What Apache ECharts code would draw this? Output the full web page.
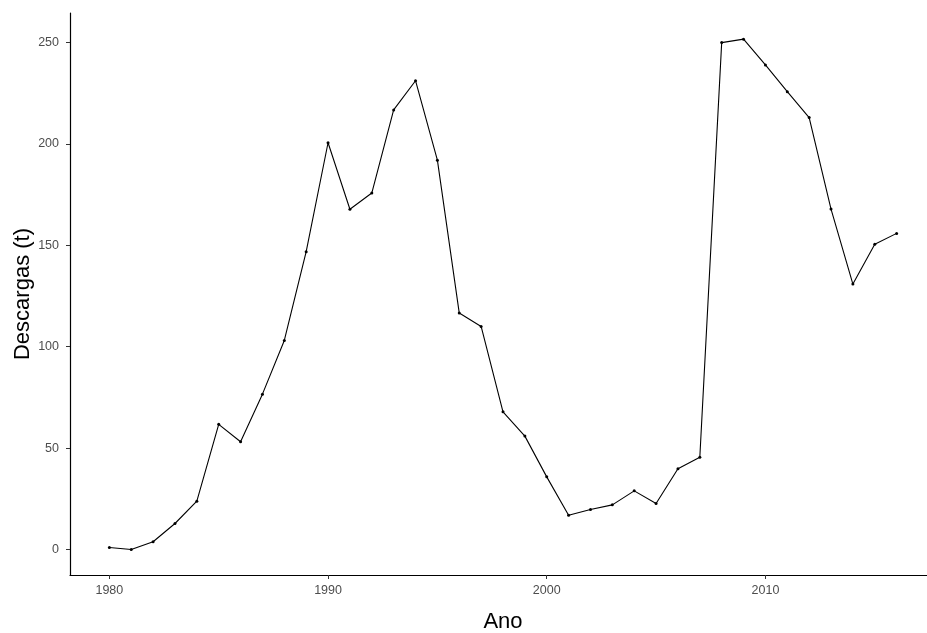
<!DOCTYPE html>
<html>
<head>
<meta charset="utf-8">
<script src="https://cdn.jsdelivr.net/npm/echarts@6/dist/echarts.min.js"></script>
<style>
  html, body { margin: 0; padding: 0; background: #fff; }
  #chart { width: 927px; height: 633px; }
</style>
</head>
<body>
<div id="chart"></div>
<script>
// ---- Data ----
const years = [1980, 1981, 1982, 1983, 1984, 1985, 1986, 1987, 1988, 1989,
  1990, 1991, 1992, 1993, 1994, 1995, 1996, 1997, 1998, 1999,
  2000, 2001, 2002, 2003, 2004, 2005, 2006, 2007, 2008, 2009,
  2010, 2011, 2012, 2013, 2014, 2015, 2016];
const descargas = [1.0, 0.0, 3.8, 12.8, 23.8, 61.7, 53.1, 76.6, 103.1, 146.9,
  200.6, 167.8, 175.8, 216.8, 231.2, 192.0, 116.6, 110.0, 67.9, 55.9,
  35.8, 16.9, 19.7, 22.0, 28.9, 22.7, 39.8, 45.5, 250.0, 251.7,
  239.0, 225.8, 213.0, 167.9, 130.9, 150.5, 155.9];
const xTicks = [1980, 1990, 2000, 2010];
const yTicks = [0, 50, 100, 150, 200, 250];

// ---- Chart ----
const chart = echarts.init(document.getElementById('chart'));
const font = 'Liberation Sans, Arial, sans-serif';
const tickText = { color: '#4d4d4d', fontSize: 12.5, fontFamily: font };

const option = {
  animation: false,
  grid: { left: 70, right: -9, top: 13, bottom: 58, outerBoundsMode: 'none', containLabel: false },
  xAxis: {
    type: 'value',
    min: 1978.2,
    max: 2017.8,
    name: 'Ano',
    nameLocation: 'middle',
    nameGap: 36,
    nameMoveOverlap: false,
    nameTextStyle: { color: '#000', fontSize: 22, fontFamily: font },
    axisLine: { show: true, onZero: false, lineStyle: { color: '#000', width: 1.2 } },
    axisTick: { show: true, length: 4, customValues: xTicks, lineStyle: { color: '#333' } },
    axisLabel: { ...tickText, margin: 9, customValues: xTicks, formatter: v => String(v) },
    splitLine: { show: false }
  },
  yAxis: {
    type: 'value',
    min: -12.6,
    max: 264.6,
    name: 'Descargas (t)',
    nameLocation: 'middle',
    nameGap: 36,
    nameMoveOverlap: false,
    nameTextStyle: { color: '#000', fontSize: 22, fontFamily: font },
    axisLine: { show: true, onZero: false, lineStyle: { color: '#000', width: 1.2 } },
    axisTick: { show: true, length: 4, customValues: yTicks, lineStyle: { color: '#333' } },
    axisLabel: { ...tickText, margin: 11, customValues: yTicks, formatter: v => String(v) },
    splitLine: { show: false }
  },
  series: [
    {
      type: 'line',
      data: years.map((y, i) => [y, descargas[i]]),
      symbol: 'circle',
      symbolSize: 3,
      itemStyle: { color: '#000' },
      lineStyle: { color: '#000', width: 1.1 }
    }
  ]
};

chart.setOption(option);
window.addEventListener('resize', () => chart.resize());
</script>
</body>
</html>
